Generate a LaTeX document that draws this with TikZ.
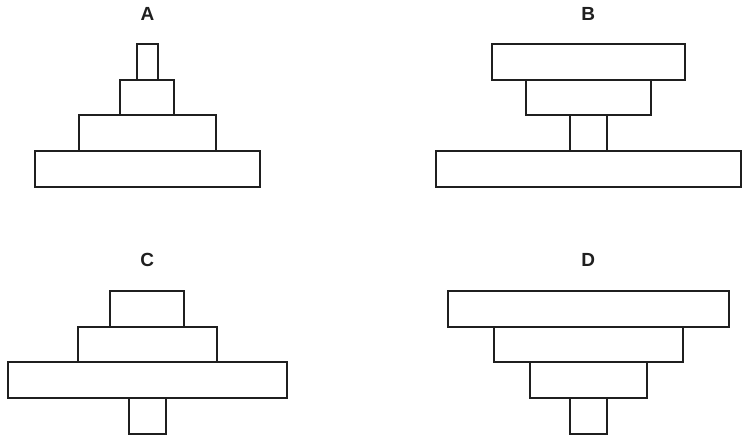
\documentclass[tikz,border=0pt]{standalone}
\usepackage{fontspec}
\setmainfont{Liberation Sans}
\newcommand\blkat[5]{\node[blk, minimum width={(#4-#2)*1pt}, minimum height={(#5-#3)*1pt}] (#1) at ({(#2+#4)/2},{(#3+#5)/2}) {};}
\begin{document}
\begin{tikzpicture}[x=1pt,y=-1pt,
  blk/.style={draw=black!88, line width=2pt, rectangle, inner sep=0pt, outer sep=0pt},
  lbl/.style={font=\fontsize{19}{22}\selectfont\bfseries, text=black!88, inner sep=0pt}]
\useasboundingbox (0,0) rectangle (750,447);
% A
\node[lbl] (la) at (147.5,13.7) {A};
\blkat{a1}{137}{44}{158}{80}
\blkat{a2}{120}{80}{174}{115}
\blkat{a3}{79}{115}{216}{151}
\blkat{a4}{35}{151}{260}{187}
% B
\node[lbl] (lb) at (588.3,13.7) {B};
\blkat{b1}{492}{44}{685}{80}
\blkat{b2}{526}{80}{651}{115}
\blkat{b3}{570}{115}{607}{151}
\blkat{b4}{436}{151}{741}{187}
% C
\node[lbl] (lc) at (147.2,260) {C};
\blkat{c1}{110}{291}{184}{327}
\blkat{c2}{78}{327}{217}{362}
\blkat{c3}{8}{362}{287}{398}
\blkat{c4}{129}{398}{166}{434}
% D
\node[lbl] (ld) at (588.3,260) {D};
\blkat{d1}{448}{291}{729}{327}
\blkat{d2}{494}{327}{683}{362}
\blkat{d3}{530}{362}{647}{398}
\blkat{d4}{570}{398}{607}{434}
\end{tikzpicture}
\end{document}
